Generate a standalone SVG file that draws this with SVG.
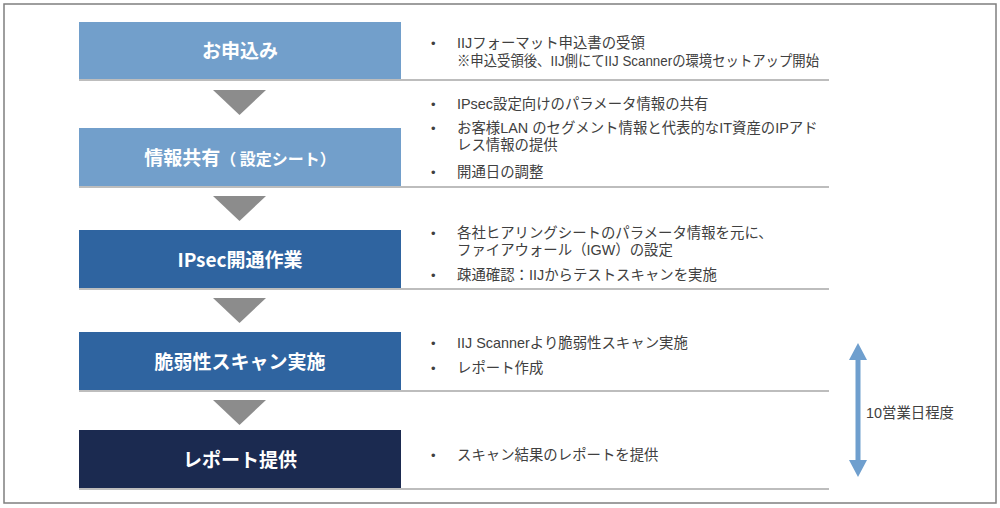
<svg xmlns="http://www.w3.org/2000/svg" width="1000" height="508" viewBox="0 0 1000 508">
<defs>
<style>
.frame{fill:#fff;stroke:#7f7f7f;stroke-width:1.5}
.lt{fill:#729fcb}
.md{fill:#2f64a0}
.dk{fill:#1b2a50}
.ul{stroke:#bdbdbd;stroke-width:2}
.tri{fill:#8c8c8c}
.lbl{font-family:"Noto Sans CJK JP","Noto Sans",sans-serif;font-weight:bold;fill:#fff;font-size:19px;text-anchor:middle}
.txt{font-family:"Liberation Sans","Noto Sans CJK JP",sans-serif;font-size:14.4px;fill:#404040}
.bul{font-family:"Liberation Sans",sans-serif;font-size:13px;fill:#404040}
.dur{fill:#6f9fce}
</style>
</defs>
<rect class="frame" x="4" y="4" width="992" height="499"/>
<g id="connectors">
<polygon class="tri" points="213,90 266,90 239.5,115"/>
<polygon class="tri" points="213,196 266,196 239.5,221"/>
<polygon class="tri" points="213,298 266,298 239.5,323"/>
<polygon class="tri" points="213,400 266,400 239.5,425"/>
</g>
<g id="step1">
<rect class="lt" x="79" y="22" width="322" height="58"/>
<line class="ul" x1="79" y1="80" x2="829" y2="80"/>
<text class="lbl" x="240" y="58">お申込み</text>
<text class="bul" x="431" y="48">•</text>
<text class="txt" x="457" y="48">IIJフォーマット申込書の受領</text>
<text class="txt" x="457" y="66" font-size="13.6" textLength="362" lengthAdjust="spacingAndGlyphs">※申込受領後、IIJ側にてIIJ Scannerの環境セットアップ開始</text>
</g>
<g id="step2">
<rect class="lt" x="79" y="128" width="322" height="59"/>
<line class="ul" x1="79" y1="187" x2="829" y2="187"/>
<text class="lbl" x="240" y="165"><tspan>情報共有</tspan><tspan font-size="16">（ 設定シート）</tspan></text>
<text class="bul" x="431" y="109">•</text>
<text class="txt" x="457" y="109">IPsec設定向けのパラメータ情報の共有</text>
<text class="bul" x="431" y="133">•</text>
<text class="txt" x="457" y="133">お客様LAN のセグメント情報と代表的なIT資産のIPアド</text>
<text class="txt" x="457" y="150">レス情報の提供</text>
<text class="bul" x="431" y="177">•</text>
<text class="txt" x="457" y="177">開通日の調整</text>
</g>
<g id="step3">
<rect class="md" x="79" y="230" width="322" height="59"/>
<line class="ul" x1="79" y1="289" x2="829" y2="289"/>
<text class="lbl" x="240" y="267">IPsec開通作業</text>
<text class="bul" x="431" y="238">•</text>
<text class="txt" x="457" y="238">各社ヒアリングシートのパラメータ情報を元に、</text>
<text class="txt" x="457" y="255">ファイアウォール（IGW）の設定</text>
<text class="bul" x="431" y="280">•</text>
<text class="txt" x="457" y="280">疎通確認：IIJからテストスキャンを実施</text>
</g>
<g id="step4">
<rect class="md" x="79" y="332" width="322" height="59"/>
<line class="ul" x1="79" y1="391" x2="829" y2="391"/>
<text class="lbl" x="240" y="369">脆弱性スキャン実施</text>
<text class="bul" x="431" y="348">•</text>
<text class="txt" x="457" y="348">IIJ Scannerより脆弱性スキャン実施</text>
<text class="bul" x="431" y="373">•</text>
<text class="txt" x="457" y="373">レポート作成</text>
</g>
<g id="step5">
<rect class="dk" x="79" y="430" width="322" height="59"/>
<line class="ul" x1="79" y1="489" x2="829" y2="489"/>
<text class="lbl" x="240" y="467">レポート提供</text>
<text class="bul" x="431" y="460">•</text>
<text class="txt" x="457" y="460">スキャン結果のレポートを提供</text>
</g>
<g id="duration">
<polygon class="dur" points="858,343 867,360 860.5,360 860.5,460 867,460 858,477 849,460 855.5,460 855.5,360 849,360"/>
<text class="txt" x="866" y="418">10営業日程度</text>
</g>
</svg>
